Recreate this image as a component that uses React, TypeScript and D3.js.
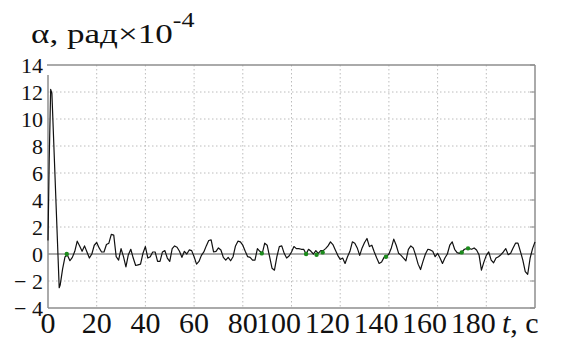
import React, { useEffect, useRef } from 'react';
import * as d3 from 'd3';

// Initial transient (t, value ×10^-4 rad)
const spikeT = [0, 0.5, 1.1, 1.6, 4.6];
const spikeV = [1.0, 7.0, 12.2, 11.9, -2.5];

// Signal from t = 5 s to 200 s, one value per second
const tailStartT = 5;
const tailV = [
  -2.3, -1.1, -0.2, -0.1, -0.5, -0.25, 0.2, 0.95, 0.6, 0.2,
  0.6, 0.15, -0.3, 0.0, 0.65, 0.85, 0.45, 0.15, 0.15, 0.7,
  0.8, 1.45, 1.4, -0.2, -0.45, 0.4, -0.2, -0.95, -0.05, 0.35,
  -0.3, -0.85, -0.8, -0.75, 0.05, 0.55, -0.3, -0.2, 0.15, 0.15,
  -0.55, -0.55, 0.15, 0.25, -0.3, -0.55, 0.4, 0.6, 0.5, 0.2,
  -0.25, 0.2, 0.0, 0.3, 0.25, -0.2, -0.75, -0.55, -0.1, 0.15,
  0.6, 1.0, 1.05, 0.15, 0.2, 0.45, 0.3, -0.25, -0.45, -0.25,
  -0.5, -0.2, 0.6, 0.95, 0.9, 0.65, 0.2, -0.2, -0.25, -0.45,
  -0.45, 0.4, 0.2, 0.05, 0.8, 0.65, -0.2, -1.05, -1.2, -0.2,
  0.55, 0.6, 0.05, -0.3, -0.15, 0.15, 0.55, 0.4, 0.4, 0.35,
  0.35, 0.0, 0.35, 0.2, 0.0, 0.25, 0.05, 0.25, 0.25, 0.4,
  0.6, 0.9, 0.7, 0.3, -0.1, -0.4, -0.3, -0.7, -0.2, 0.2,
  0.9, 0.8, 0.45, -0.1, 0.45, 0.85, 1.15, 0.55, 0.65, 0.15,
  -0.3, -0.7, -0.6, -0.25, -0.2, 0.0, 0.45, 1.1, 0.65, 0.05,
  -0.1, -0.3, -0.5, 0.35, 0.6, 0.45, -0.1, -0.75, -1.15, -0.55,
  0.0, 0.35, 0.3, 0.2, -0.2, 0.05, -0.3, -0.7, -0.3, 0.0,
  0.65, 0.9, 0.35, 0.1, 0.05, 0.15, 0.35, 0.4, 0.4, 0.35,
  0.45, 0.3, -0.05, -1.2, -0.6, -0.1, 0.15, -0.45, -0.65, -0.3,
  -0.2, -0.05, 0.15, 0.4, -0.05, 0.05, 0.45, 0.8, 0.8, 0.2,
  -0.45, -1.3, -1.5, -0.3, 0.4, 0.9,
];

// Small green markers on the trace
const markerT = [7.7, 87.8, 106, 110.3, 112.8, 138.8, 169.9, 172.5];
const markerV = [0.0, 0.05, 0.0, -0.05, 0.12, -0.2, 0.12, 0.42];

const xTicks = [0, 20, 40, 60, 80, 100, 120, 140, 160, 180];
const xTickLabels = ['0', '20', '40', '60', '80', '100', '120', '140', '160', '180'];
const yTicks = [-4, -2, 0, 2, 4, 6, 8, 10, 12, 14];
const yTickLabels = ['\u2212 4', '\u2212 2', '0', '2', '4', '6', '8', '10', '12', '14'];

const W = 561;
const H = 338;
const M = { left: 48, right: 26, top: 65, bottom: 30 };
const FONT = 'Liberation Serif';

export default function App() {
  const ref = useRef<SVGSVGElement>(null);

  useEffect(() => {
    const svg = d3.select(ref.current);
    svg.selectAll('*').remove();

    const x = d3.scaleLinear().domain([0, 200]).range([M.left, W - M.right]);
    const y = d3.scaleLinear().domain([-4, 14]).range([H - M.bottom, M.top]);

    const pts: [number, number][] = [];
    spikeT.forEach((t, i) => pts.push([t, spikeV[i]]));
    tailV.forEach((v, i) => pts.push([tailStartT + i, v]));

    const x0 = x(0);
    const x1 = x(200);
    const yTop = y(14);
    const yBot = y(-4);
    const axisColor = '#8e8e8e';
    const gridColor = '#bcbcbc';

    svg.append('rect').attr('width', W).attr('height', H).attr('fill', '#fff');

    svg
      .selectAll('line.gx')
      .data(xTicks.filter((t) => t > 0))
      .join('line')
      .attr('x1', (d) => x(d))
      .attr('x2', (d) => x(d))
      .attr('y1', yTop)
      .attr('y2', yBot)
      .attr('stroke', gridColor)
      .attr('stroke-dasharray', '1.5,2.5');

    svg
      .selectAll('line.gy')
      .data(yTicks.filter((v) => v !== -4 && v !== 14 && v !== 0))
      .join('line')
      .attr('x1', x0)
      .attr('x2', x1)
      .attr('y1', (d) => y(d))
      .attr('y2', (d) => y(d))
      .attr('stroke', gridColor)
      .attr('stroke-dasharray', '1.5,2.5');

    const solid = (ax1: number, ax2: number, ay1: number, ay2: number, w = 1.5) =>
      svg
        .append('line')
        .attr('x1', ax1)
        .attr('x2', ax2)
        .attr('y1', ay1)
        .attr('y2', ay2)
        .attr('stroke', axisColor)
        .attr('stroke-width', w);

    solid(x0, x1, y(0), y(0));
    solid(x0 - 1, x1, yTop, yTop);
    solid(x0, x1, yBot, yBot);
    solid(x0, x0, yTop + 10, yBot);
    solid(x1, x1, yTop, yBot);
    yTicks.forEach((v) => solid(x1 - 5, x1, y(v), y(v), 1));

    const line = d3
      .line<[number, number]>()
      .x((d) => x(d[0]))
      .y((d) => y(d[1]));
    svg
      .append('path')
      .attr('d', line(pts) || '')
      .attr('fill', 'none')
      .attr('stroke', '#111')
      .attr('stroke-width', 1.2)
      .attr('stroke-linejoin', 'round');

    svg
      .selectAll('circle.m')
      .data(markerT)
      .join('circle')
      .attr('cx', (d) => x(d))
      .attr('cy', (d, i) => y(markerV[i]))
      .attr('r', 2.2)
      .attr('fill', '#1b8a1b');

    const txt = (sel: any) =>
      sel.attr('font-family', FONT).style('font-family', FONT).attr('fill', '#111');

    yTicks.forEach((v, i) => {
      txt(svg.append('text'))
        .attr('x', 43)
        .attr('y', y(v) + 7.5)
        .attr('text-anchor', 'end')
        .attr('font-size', 22)
        .text(yTickLabels[i]);
    });

    xTicks.forEach((t, i) => {
      txt(svg.append('text'))
        .attr('x', x(t) + (t >= 100 ? -13 : 0))
        .attr('y', 333)
        .attr('text-anchor', 'middle')
        .attr('font-size', 30)
        .text(xTickLabels[i]);
    });

    const tl = txt(svg.append('text')).attr('x', 502).attr('y', 333).attr('font-size', 30);
    tl.append('tspan').attr('font-style', 'italic').text('t');
    tl.append('tspan').text(', c');

    const title = txt(
      svg.append('g').attr('transform', 'translate(31,43) scale(1.3,1)').append('text')
    )
      .attr('x', 0)
      .attr('y', 0)
      .attr('font-size', 27);
    title.append('tspan').text('α, рад×10');
    title.append('tspan').attr('font-size', 20).attr('dy', -16).text('-4');
  }, []);

  return (
    <svg
      ref={ref}
      width={W}
      height={H}
      style={{ position: 'absolute', left: 0, top: 0 }}
    />
  );
}
